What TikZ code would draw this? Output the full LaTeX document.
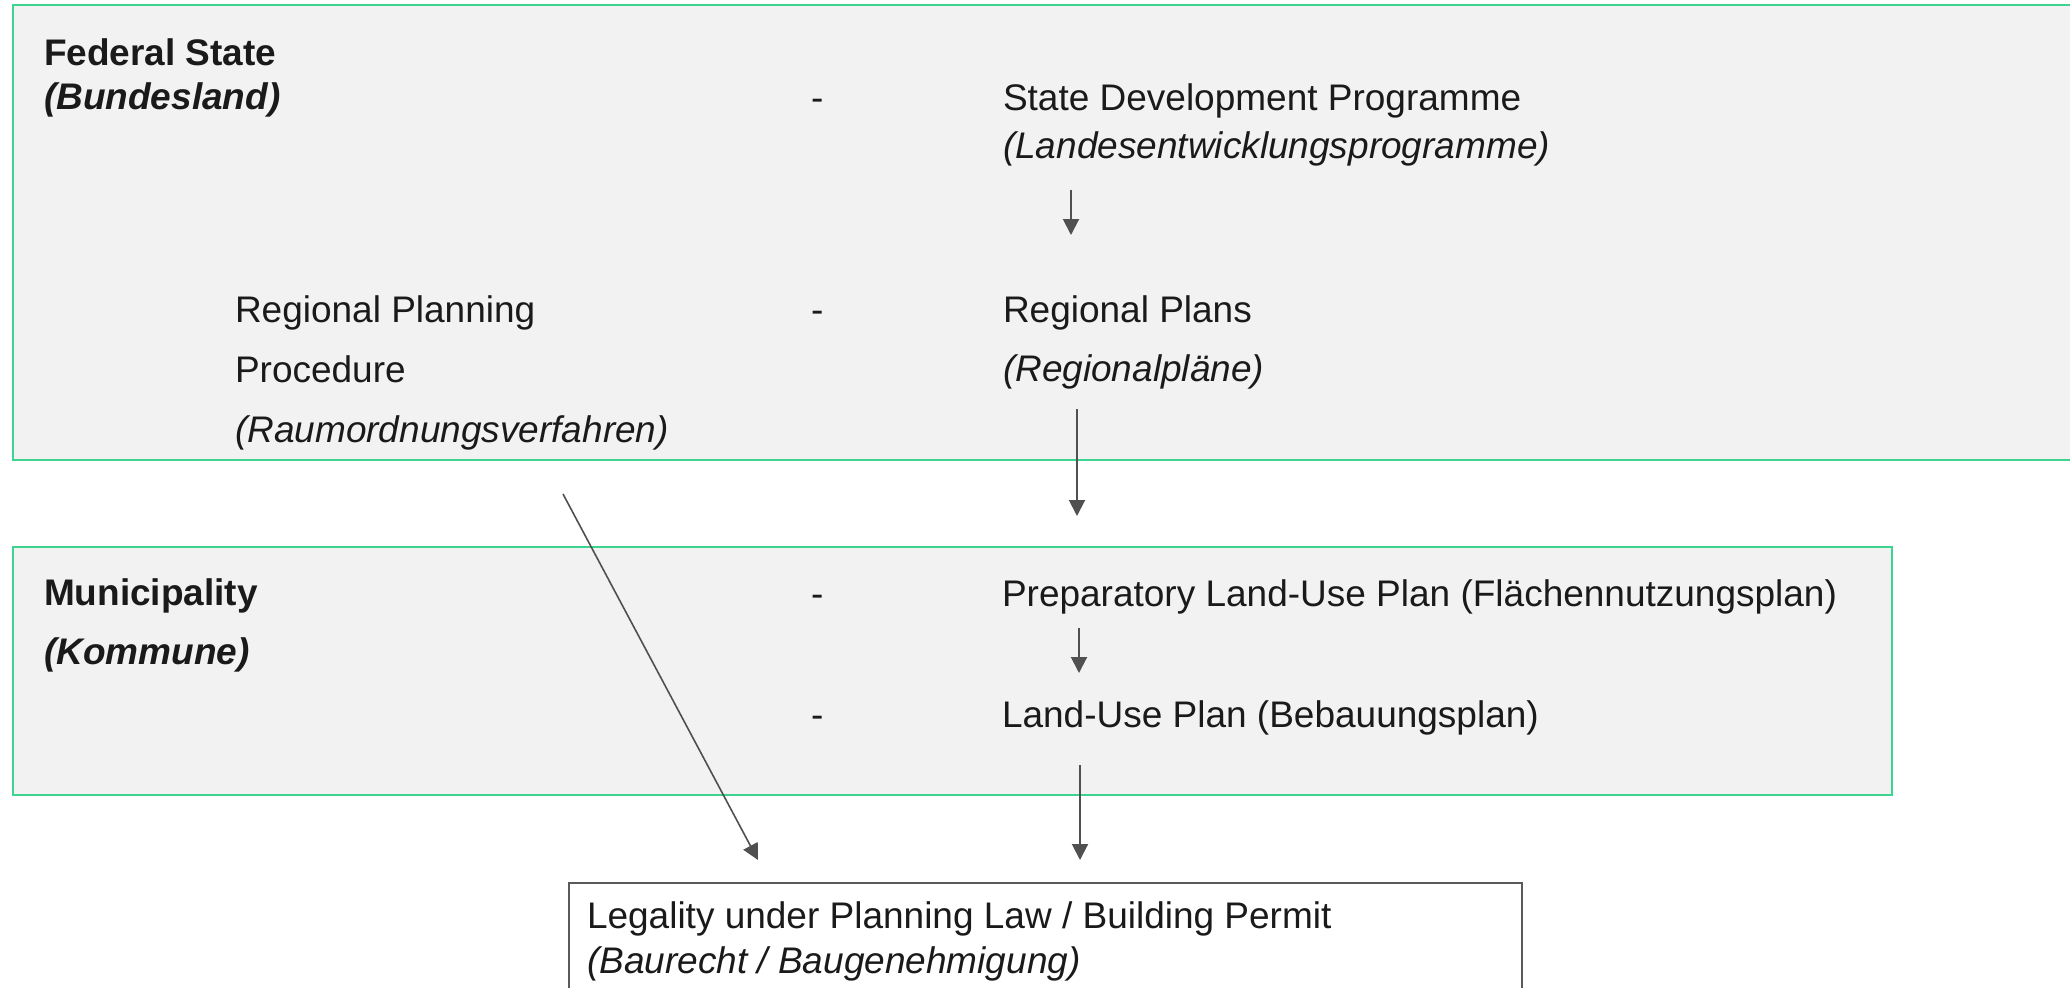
\documentclass[tikz,border=0pt]{standalone}
\usepackage{fontspec}
\setmainfont{Liberation Sans}
\usetikzlibrary{arrows.meta}
\definecolor{boxgreen}{RGB}{61,212,143}
\definecolor{boxfill}{RGB}{242,242,242}
\definecolor{arrowgray}{RGB}{80,80,80}
\definecolor{framegray}{RGB}{90,90,90}
\definecolor{txt}{RGB}{26,26,26}
\begin{document}
\begin{tikzpicture}[x=1pt,y=-1pt,
  lbl/.style={anchor=base west, inner sep=0pt, outer sep=0pt, text=txt,
    font=\fontsize{37pt}{44pt}\selectfont},
  lblit/.style={lbl, font=\fontsize{37pt}{44pt}\selectfont\itshape},
  head/.style={lbl, font=\fontsize{37pt}{44pt}\selectfont\bfseries},
  headit/.style={lbl, font=\fontsize{37pt}{44pt}\selectfont\bfseries\itshape},
  regionbox/.style={draw=boxgreen, fill=boxfill, line width=2.5pt, inner sep=0pt, outer sep=0pt},
  resultbox/.style={draw=framegray, fill=white, line width=2.2pt, inner sep=0pt, outer sep=0pt},
  arr/.style={draw=arrowgray, line width=2pt, -{Triangle[width=16pt,length=16pt]}}
]
\useasboundingbox (0,0) rectangle (2070,988);
\clip (0,0) rectangle (2070,988);

% boxes
\node[regionbox, minimum width=2067pt, minimum height=455pt] (state) at (1046.5,232.5) {};
\node[regionbox, minimum width=1879pt, minimum height=248pt] (muni) at (952.5,671) {};
\node[resultbox, minimum width=953pt, minimum height=130pt] (result) at (1045.5,948) {};

% Federal State box texts
\node[head] (fs) at (44,65) {Federal State};
\node[headit] (bl) at (44,109) {(Bundesland)};
\node[lbl] (d1) at (811,110) {-};
\node[lbl] (sdp) at (1003,110) {State Development Programme};
\node[lblit] (ldp) at (1003,158) {(Landesentwicklungsprogramme)};

\node[lbl] (rp1) at (235,322) {Regional Planning};
\node[lbl] (rp2) at (235,382) {Procedure};
\node[lblit] (rp3) at (235,442) {(Raumordnungsverfahren)};
\node[lbl] (d2) at (811,322) {-};
\node[lbl] (rpl) at (1003,322) {Regional Plans};
\node[lblit] (rpl2) at (1003,381) {(Regionalpläne)};

% Municipality box texts
\node[head] (mu) at (44,605) {Municipality};
\node[headit] (ko) at (44,664) {(Kommune)};
\node[lbl] (d3) at (811,606) {-};
\node[lbl] (fnp) at (1002,606) {Preparatory Land-Use Plan (Flächennutzungsplan)};
\node[lbl] (d4) at (811,727) {-};
\node[lbl] (bp) at (1002,727) {Land-Use Plan (Bebauungsplan)};

% Result box texts
\node[lbl] (lg) at (587,928) {Legality under Planning Law / Building Permit};
\node[lblit] (bg) at (587,973) {(Baurecht / Baugenehmigung)};

% arrow end points
\coordinate (a1s) at (1071,190);
\coordinate (a1e) at (1071,235);
\coordinate (a2s) at (1077,409);
\coordinate (a2e) at (1077,516);
\coordinate (a3s) at (1079,628);
\coordinate (a3e) at (1079,673);
\coordinate (a4s) at (1080,765);
\coordinate (a4e) at (1080,860);
\coordinate (a5s) at (563,494);
\coordinate (a5e) at (758,860);

\draw[arr] (a1s) -- (a1e);
\draw[arr] (a2s) -- (a2e);
\draw[arr] (a3s) -- (a3e);
\draw[arr] (a4s) -- (a4e);
\draw[arr, line width=1.6pt] (a5s) -- (a5e);
\end{tikzpicture}
\end{document}
